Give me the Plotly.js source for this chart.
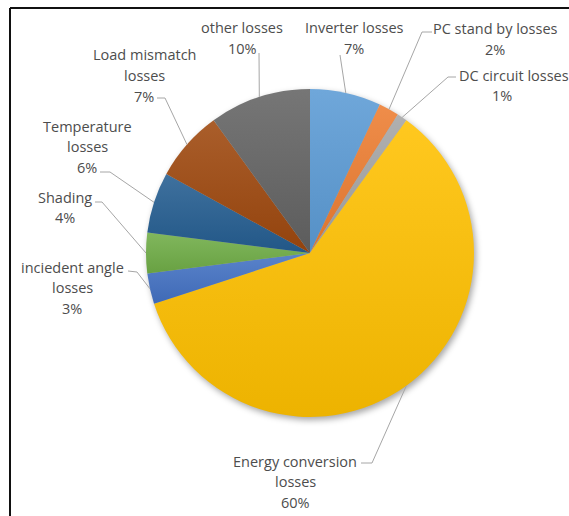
<!DOCTYPE html>
<html>
<head>
<meta charset="utf-8">
<script src="https://cdn.plot.ly/plotly-3.0.1.min.js"></script>
<style>
  html, body { margin: 0; padding: 0; background: #fff; }
  #chart { width: 569px; height: 516px; }
  .pielayer .trace { filter: drop-shadow(2px 3px 3px rgba(0,0,0,0.35)); }
</style>
</head>
<body>
<div id="chart"></div>
<script>
// Loss categories, clockwise from 12 o'clock
const categories = [
  'Inverter losses', 'PC stand by losses', 'DC circuit losses',
  'Energy conversion losses', 'inciedent angle losses', 'Shading',
  'Temperature losses', 'Load mismatch losses', 'other losses'
];
// Share of each loss (%)
const lossValues = [7, 2, 1, 60, 3, 4, 6, 7, 10];
// How each category name wraps in its label
const labelLines = [
  ['Inverter losses'], ['PC stand by losses'], ['DC circuit losses'],
  ['Energy conversion', 'losses'], ['inciedent angle', 'losses'], ['Shading'],
  ['Temperature', 'losses'], ['Load mismatch', 'losses'], ['other losses']
];
const sliceColors = ['#5B9BD5', '#ED7D31', '#A5A5A5', '#FFC000', '#4472C4',
                     '#70AD47', '#255E91', '#9E480E', '#636363'];

const W = 569, H = 516;
// pie geometry in pixels
const cx = 310, cy = 253, R = 164;

// label placement (pixels): centre x of text block, y of first line,
// leader start point and optional elbow
const labelPlace = [
  {x: 354, y: 28, start: [340, 55]},
  {x: 495, y: 29, start: [432, 32], elbow: [422, 32]},
  {x: 457, y: 75, anchor: 'left', pctX: 502, start: [456, 77], elbow: [448, 77]},
  {x: 295, y: 461, start: [361, 463], elbow: [372, 463]},
  {x: 72, y: 267, start: [128, 271], elbow: [137, 272]},
  {x: 65, y: 197, start: [95, 202], elbow: [102, 202]},
  {x: 87, y: 126, start: [100, 172], elbow: [110, 172]},
  {x: 144, y: 55, start: [157, 98], elbow: [165, 98]},
  {x: 242, y: 28, start: [259, 53]}
];
const lineGap = 20.7;

const px = v => v / W;
const py = v => 1 - v / H;

const total = lossValues.reduce((a, b) => a + b, 0);
const font = {family: '"Open Sans", "Noto Sans", sans-serif', size: 14.5, color: '#4d4d4d'};

const annotations = [];
const shapes = [];
let cum = 0;
lossValues.forEach((v, i) => {
  const pct = Math.round(v / total * 100) + '%';
  const p = labelPlace[i];
  const lines = labelLines[i].concat([pct]);
  lines.forEach((t, k) => {
    const isPct = k === lines.length - 1;
    let x = p.x, xa = p.anchor || 'center';
    if (isPct && p.pctX !== undefined) { x = p.pctX; xa = 'center'; }
    annotations.push({
      xref: 'paper', yref: 'paper', x: px(x), y: py(p.y + k * lineGap),
      text: t, showarrow: false, xanchor: xa, yanchor: 'middle', font: font
    });
  });
  // leader line ends on the slice edge at its middle angle
  const mid = (cum + v / 2) / total * 2 * Math.PI;
  cum += v;
  const ex = cx + R * Math.sin(mid), ey = cy - R * Math.cos(mid);
  const pts = [p.start];
  if (p.elbow) pts.push(p.elbow);
  pts.push([ex, ey]);
  for (let k = 0; k < pts.length - 1; k++) {
    shapes.push({
      type: 'line', xref: 'paper', yref: 'paper',
      x0: px(pts[k][0]), y0: py(pts[k][1]), x1: px(pts[k + 1][0]), y1: py(pts[k + 1][1]),
      line: {color: '#A6A6A6', width: 1}
    });
  }
});

// frame around the chart area
shapes.push({type: 'line', xref: 'paper', yref: 'paper', x0: px(10), y0: py(8), x1: px(10), y1: 0,
             line: {color: '#111', width: 2}});
shapes.push({type: 'line', xref: 'paper', yref: 'paper', x0: px(10), y0: py(8), x1: 1, y1: py(8),
             line: {color: '#111', width: 2}});

const trace = {
  type: 'pie',
  labels: categories,
  values: lossValues,
  sort: false,
  direction: 'clockwise',
  rotation: 0,
  textinfo: 'none',
  hoverinfo: 'label+percent',
  marker: {colors: sliceColors, line: {width: 0}},
  domain: {x: [px(cx - R), px(cx + R)], y: [py(cy + R), py(cy - R)]}
};

// shift a hex colour toward white (f > 0) or black (f < 0)
function shade(hex, f) {
  const n = parseInt(hex.slice(1), 16);
  const ch = [n >> 16, (n >> 8) & 255, n & 255].map(c =>
    Math.round(f >= 0 ? c + (255 - c) * f : c * (1 + f)));
  return 'rgb(' + ch.join(',') + ')';
}

Plotly.newPlot('chart', [trace], {
  width: W, height: H,
  margin: {l: 0, r: 0, t: 0, b: 0},
  showlegend: false,
  paper_bgcolor: '#fff',
  annotations: annotations,
  shapes: shapes
}, {displayModeBar: false, staticPlot: true}).then(gd => {
  // soft top-to-bottom gradient on each slice
  const ns = 'http://www.w3.org/2000/svg';
  const svg = gd.querySelector('svg.main-svg');
  let defs = svg.querySelector('defs');
  if (!defs) { defs = document.createElementNS(ns, 'defs'); svg.insertBefore(defs, svg.firstChild); }
  gd.querySelectorAll('.pielayer .slice path.surface').forEach((path, i) => {
    const id = 'sliceGrad' + i;
    const lg = document.createElementNS(ns, 'linearGradient');
    lg.setAttribute('id', id);
    lg.setAttribute('x1', '0'); lg.setAttribute('y1', '0');
    lg.setAttribute('x2', '0'); lg.setAttribute('y2', '1');
    [[0, shade(sliceColors[i], 0.12)], [1, shade(sliceColors[i], -0.07)]].forEach(([o, c]) => {
      const s = document.createElementNS(ns, 'stop');
      s.setAttribute('offset', o);
      s.setAttribute('stop-color', c);
      lg.appendChild(s);
    });
    defs.appendChild(lg);
    path.style.fill = 'url(#' + id + ')';
  });
});
</script>
</body>
</html>
